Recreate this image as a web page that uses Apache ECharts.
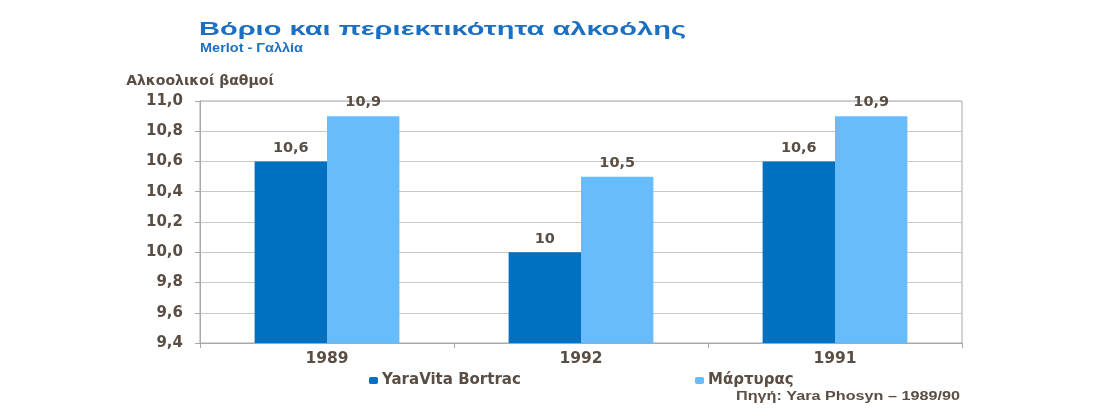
<!DOCTYPE html>
<html><head><meta charset="utf-8">
<script src="https://cdn.jsdelivr.net/npm/echarts@6/dist/echarts.min.js"></script>
<style>html,body{margin:0;padding:0;background:#fff}#c{width:1110px;height:420px}</style>
</head><body><div id="c"></div>
<script>
const categories = ['1989', '1992', '1991'];
const bortrac = [10.6, 10.0, 10.6];
const control = [10.9, 10.5, 10.9];
const seriesNames = ['YaraVita Bortrac', 'Μάρτυρας'];
const titleText = 'Βόριο και περιεκτικότητα αλκοόλης';
const subtitleText = 'Merlot - Γαλλία';
const yAxisName = 'Αλκοολικοί βαθμοί';
const sourceText = 'Πηγή: Yara Phosyn – 1989/90';

const font = '"Liberation Sans", Arial, sans-serif';
const wide = '"DejaVu Sans", Verdana, sans-serif';
const txt = '#5a4e44';
const blue = '#1b70c4';
const fmtVal = v => String(v).replace('.', ',');

// horizontal stretch so the text spans the same width as in the reference
const ctx = document.createElement('canvas').getContext('2d');
function stretch(text, cssFont, targetWidth) {
  ctx.font = cssFont;
  return targetWidth / ctx.measureText(text).width;
}
const titleFont = 'bold 19px ' + font;
const subFont = 'bold 13px ' + font;
const srcFont = 'bold 12.5px ' + font;

const chart = echarts.init(document.getElementById('c'));
chart.setOption({
  animation: false,
  textStyle: { fontFamily: wide },
  legend: [
    { data: [seriesNames[0]], left: 364, top: 368, itemWidth: 9, itemHeight: 7, itemGap: 4,
      textStyle: { color: txt, fontSize: 15, fontWeight: 'bold', fontFamily: wide, padding: [0,0,0,-1] } },
    { data: [seriesNames[1]], left: 690, top: 368, itemWidth: 9, itemHeight: 7, itemGap: 4,
      textStyle: { color: txt, fontSize: 15, fontWeight: 'bold', fontFamily: wide, padding: [0,0,0,-1] } }
  ],
  graphic: [
    { type: 'text', x: 199, y: 20, scaleX: stretch(titleText, titleFont, 487),
      style: { text: titleText, fill: blue, font: titleFont } },
    { type: 'text', x: 200, y: 42, scaleX: stretch(subtitleText, subFont, 103),
      style: { text: subtitleText, fill: blue, font: subFont } },
    { type: 'text', x: 960, y: 390, scaleX: stretch(sourceText, srcFont, 224),
      style: { text: sourceText, fill: txt, font: srcFont, align: 'right' } }
  ],
  grid: { left: 200, right: 148, top: 101, bottom: 77, show: true, borderColor: '#a8a8a8', borderWidth: 1 },
  xAxis: {
    type: 'category', data: categories,
    axisLine: { lineStyle: { color: '#a8a8a8' } },
    axisTick: { show: true, length: 5, lineStyle: { color: '#a8a8a8' } },
    axisLabel: { color: txt, fontSize: 15.5, fontWeight: 'bold', fontFamily: wide, margin: 8 }
  },
  yAxis: {
    type: 'value', min: 9.4, max: 11.0, interval: 0.2,
    name: yAxisName, nameLocation: 'end', nameGap: 13,
    nameTextStyle: { color: txt, fontSize: 14, fontWeight: 'bold', fontFamily: wide, align: 'center' },
    axisLine: { show: true, lineStyle: { color: '#a8a8a8' } },
    axisTick: { show: true, length: 5, lineStyle: { color: '#a8a8a8' } },
    axisLabel: { color: txt, fontSize: 15, fontWeight: 'bold', fontFamily: wide, margin: 17,
      formatter: v => v.toFixed(1).replace('.', ',') },
    splitLine: { lineStyle: { color: '#c8c8c8' } }
  },
  series: [
    { name: seriesNames[0], type: 'bar', data: bortrac, barGap: '0%', barCategoryGap: '43%',
      itemStyle: { color: '#0070c0' },
      label: { show: true, position: 'top', distance: 6, color: txt, fontSize: 14.5, fontWeight: 'bold', fontFamily: wide, formatter: p => fmtVal(p.value) } },
    { name: seriesNames[1], type: 'bar', data: control, barGap: '0%', barCategoryGap: '43%',
      itemStyle: { color: '#69bcfc' },
      label: { show: true, position: 'top', distance: 6, color: txt, fontSize: 14.5, fontWeight: 'bold', fontFamily: wide, formatter: p => fmtVal(p.value) } }
  ]
});
</script></body></html>
